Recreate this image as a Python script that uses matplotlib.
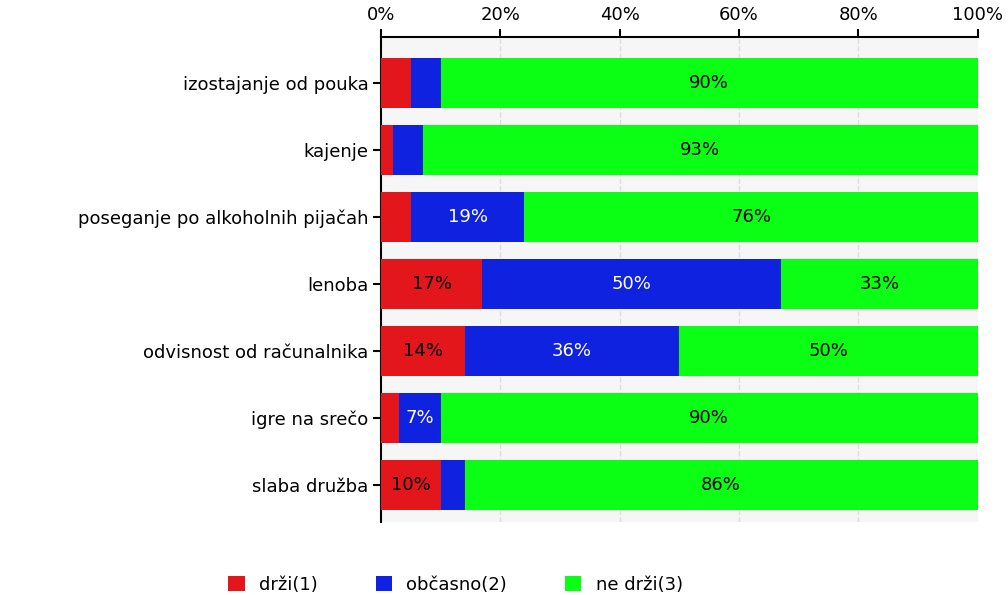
import numpy as np
import matplotlib.pyplot as plt

# data
cats = ['izostajanje od pouka', 'kajenje', 'poseganje po alkoholnih pijačah', 'lenoba',
        'odvisnost od računalnika', 'igre na srečo', 'slaba družba']
drzi = [5, 2, 5, 17, 14, 3, 10]
obcasno = [5, 5, 19, 50, 36, 7, 4]
nedrzi = [90, 93, 76, 33, 50, 90, 86]
names = ['drži(1)', 'občasno(2)', 'ne drži(3)']
cols = ['#e2161b', '#0f22e0', '#0aff14']
txtcols = ['black', 'white', 'black']

fig = plt.figure(figsize=(10.08, 5.95), dpi=100)
ax = fig.add_axes([0.378, 0.123, 0.592, 0.815])
ax.set_facecolor('#f6f6f6')

fs = 13
y = np.arange(len(cats))
left = np.zeros(len(cats))
series = [drzi, obcasno, nedrzi]
for vals, c, tc, nm in zip(series, cols, txtcols, names):
    vals = np.array(vals)
    ax.barh(y, vals, left=left, height=0.75, color=c, label=nm, zorder=3)
    for i in range(len(cats)):
        if vals[i] >= 7:
            ax.text(left[i] + vals[i] / 2, y[i], '%d%%' % vals[i], ha='center', va='center',
                    color=tc, fontsize=fs, zorder=4)
    left = left + vals

ax.set_xlim(0, 100)
ax.set_ylim(len(cats) - 1 + 0.55, -0.69)
ax.set_yticks(y)
ax.set_yticklabels(cats, fontsize=fs)
ax.set_xticks([0, 20, 40, 60, 80, 100])
ax.set_xticklabels(['0%', '20%', '40%', '60%', '80%', '100%'], fontsize=fs)
ax.xaxis.tick_top()
for x in [20, 40, 60, 80]:
    ax.axvline(x, color='#dddddd', lw=1, ls='--', zorder=1)
ax.spines['right'].set_visible(False)
ax.spines['bottom'].set_visible(False)
ax.spines['left'].set_linewidth(1.5)
ax.spines['top'].set_linewidth(1.5)
ax.tick_params(axis='both', length=6, width=1.5, color='black', pad=3)

fig.legend(loc='lower center', ncol=3, frameon=False, fontsize=fs,
           bbox_to_anchor=(0.452, -0.025), handlelength=0.9, handleheight=0.9,
           columnspacing=3.2, handletextpad=0.8)

fig.savefig('out.png', dpi=100)
